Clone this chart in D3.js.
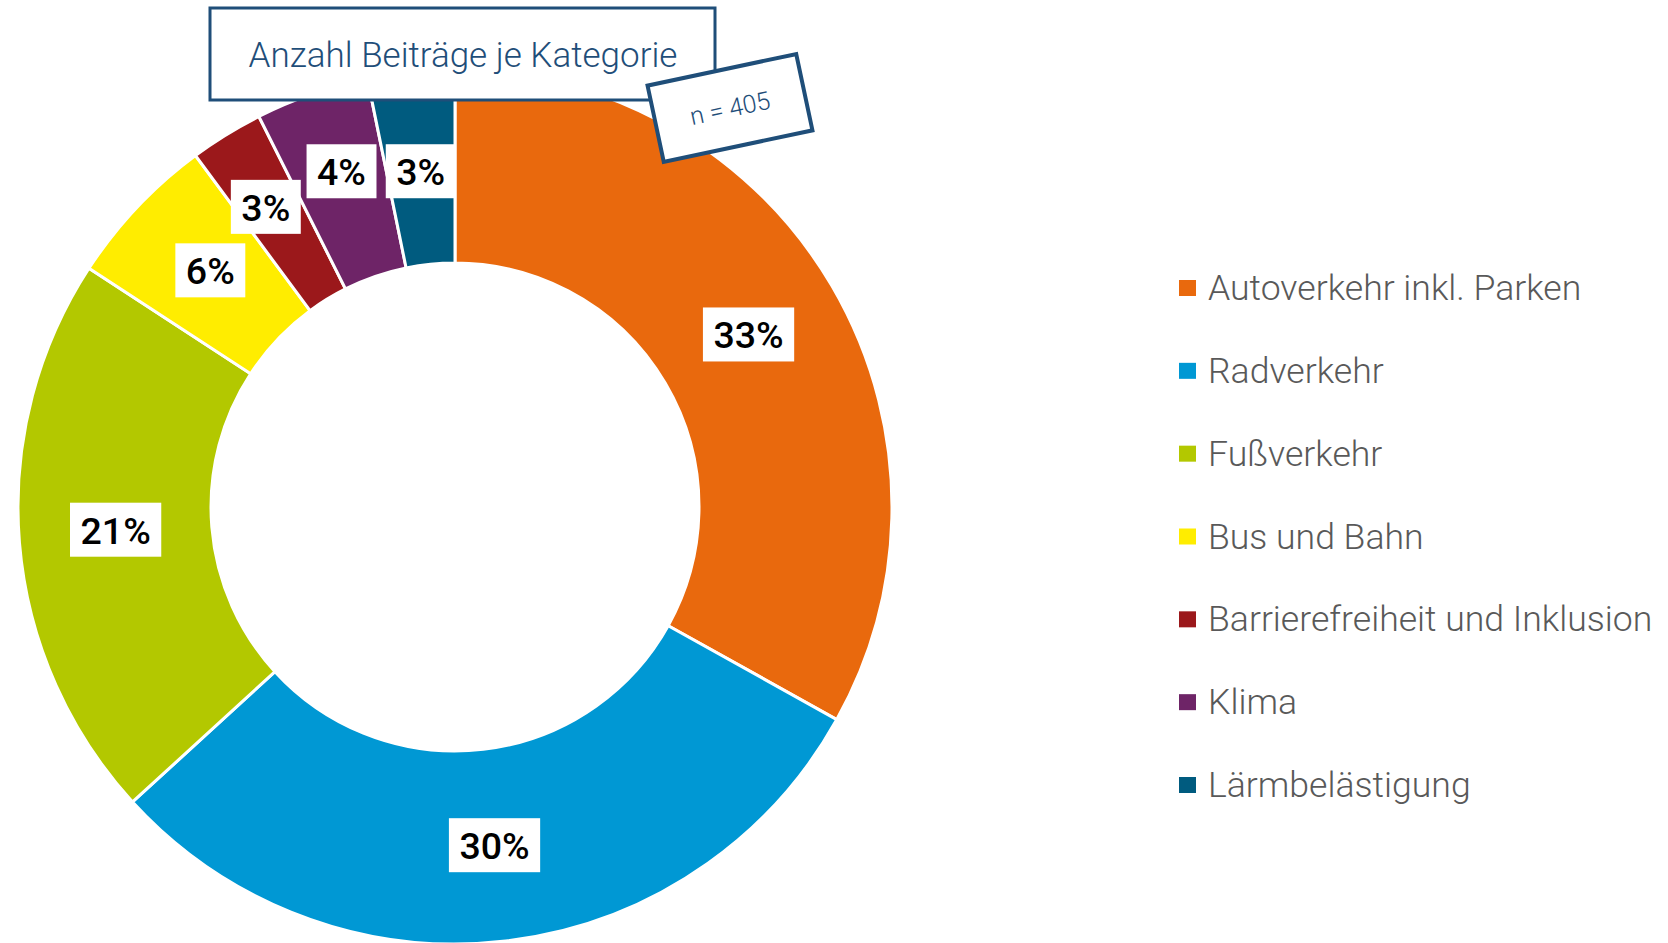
<!DOCTYPE html>
<meta charset="utf-8">
<title>Anzahl Beiträge je Kategorie</title>
<style>
body { margin: 0; background: #fff; }
svg { display: block; }
.lbl { font-family: Roboto, sans-serif; font-weight: 500; font-size: 37.5px; fill: #000; }
.leg { font-family: Roboto, sans-serif; font-weight: 300; font-size: 35.6px; fill: #595959; }
.ttl { font-family: Roboto, sans-serif; font-weight: 300; font-size: 35px; fill: #1f4e79; }
</style>
<body>
<svg width="1668" height="943"></svg>
<script src="https://cdnjs.cloudflare.com/ajax/libs/d3/7.8.5/d3.min.js"></script>
<script>
// data (counts, n = 405)
var categories = ["Autoverkehr inkl. Parken", "Radverkehr", "Fußverkehr", "Bus und Bahn",
                  "Barrierefreiheit und Inklusion", "Klima", "Lärmbelästigung"];
var counts = [134, 122, 85, 23, 11, 17, 13];
var colors = ["#e9690d", "#0098d4", "#b3c800", "#ffed00", "#9b181b", "#6e2467", "#005b7f"];
var title = "Anzahl Beiträge je Kategorie";
var nLabel = "n = 405";

// small label nudges (layout only), like the original best-fit placement
var nudge = [[0, 0], [0, 0], [0, -5], [3, -3], [-11, -10], [-2, -14], [0, 3]];

var svg = d3.select("svg");
var cx = 455, cy = 507, R = 437, r = 244;

var total = d3.sum(counts);
var pie = d3.pie().sort(null).value(function(d) { return d; });
var arc = d3.arc().innerRadius(r).outerRadius(R);
var mid = d3.arc().innerRadius((r + R) / 2).outerRadius((r + R) / 2);

var g = svg.append("g").attr("transform", "translate(" + cx + "," + cy + ")");
var arcs = pie(counts);

g.selectAll("path")
  .data(arcs)
  .enter().append("path")
  .attr("d", arc)
  .attr("fill", function(d, i) { return colors[i]; })
  .attr("stroke", "#fff")
  .attr("stroke-width", 3);

// percent labels with white boxes
var lab = g.selectAll(".lab")
  .data(arcs)
  .enter().append("g")
  .attr("class", "lab")
  .attr("transform", function(d, i) {
    var c = mid.centroid(d);
    return "translate(" + (c[0] + nudge[i][0]) + "," + (c[1] + nudge[i][1]) + ")";
  });

lab.each(function(d) {
  var el = d3.select(this);
  var rect = el.append("rect").attr("fill", "#fff");
  var t = el.append("text")
    .attr("class", "lbl")
    .attr("text-anchor", "middle")
    .attr("dy", "0.37em")
    .text(Math.round(d.value / total * 100) + "%");
  var w = t.node().getComputedTextLength() + 21;
  rect.attr("x", -w / 2).attr("y", -27).attr("width", w).attr("height", 54);
});

// title box
var tb = svg.append("g");
tb.append("rect")
  .attr("x", 210).attr("y", 8).attr("width", 505).attr("height", 92)
  .attr("fill", "#fff").attr("stroke", "#1f4e79").attr("stroke-width", 3);
tb.append("text")
  .attr("class", "ttl")
  .attr("x", 463).attr("y", 67)
  .attr("text-anchor", "middle")
  .text(title);

// n box, tilted
var nb = svg.append("g").attr("transform", "translate(730,108) rotate(-12)");
nb.append("rect")
  .attr("x", -76).attr("y", -39).attr("width", 152).attr("height", 78)
  .attr("fill", "#fff").attr("stroke", "#1f4e79").attr("stroke-width", 4);
nb.append("text")
  .attr("class", "ttl")
  .style("font-size", "25px")
  .attr("text-anchor", "middle")
  .attr("dy", "0.36em")
  .text(nLabel);

// legend
var ly = d3.scalePoint().domain(categories).range([288, 785]);
var leg = svg.append("g").selectAll("g")
  .data(categories)
  .enter().append("g")
  .attr("transform", function(d) { return "translate(1179," + ly(d) + ")"; });
leg.append("rect")
  .attr("x", 0).attr("y", -8).attr("width", 17).attr("height", 16)
  .attr("fill", function(d, i) { return colors[i]; });
leg.append("text")
  .attr("class", "leg")
  .attr("x", 29).attr("y", 12)
  .text(function(d) { return d; });
</script>
</body>
